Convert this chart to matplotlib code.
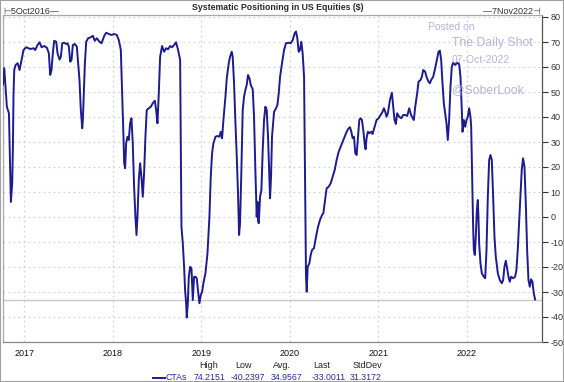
import matplotlib
matplotlib.use('Agg')
import matplotlib.pyplot as plt
from matplotlib.patches import Rectangle

plt.rcParams['font.family'] = ['Liberation Sans', 'DejaVu Sans']
plt.rcParams['axes.unicode_minus'] = False

# CTA positioning, dates as decimal years
t_2016_18 = [2016.760, 2016.774, 2016.789, 2016.804, 2016.827, 2016.842, 2016.849, 2016.864,
             2016.872, 2016.879, 2016.887, 2016.902, 2016.925, 2016.947, 2016.970, 2016.992,
             2017.022, 2017.068, 2017.105, 2017.124, 2017.150, 2017.173, 2017.196, 2017.226,
             2017.256, 2017.278, 2017.293, 2017.308, 2017.323, 2017.338, 2017.361, 2017.376,
             2017.399, 2017.414, 2017.429, 2017.451, 2017.474, 2017.489, 2017.504, 2017.519,
             2017.534, 2017.549, 2017.572, 2017.594, 2017.609, 2017.624, 2017.639, 2017.655,
             2017.662, 2017.670, 2017.685, 2017.700, 2017.722, 2017.752, 2017.775, 2017.797,
             2017.820, 2017.850, 2017.873, 2017.903, 2017.925, 2017.955, 2017.986, 2018.016,
             2018.046, 2018.068, 2018.091, 2018.106, 2018.121, 2018.129, 2018.140, 2018.151,
             2018.166, 2018.181, 2018.196, 2018.211, 2018.226, 2018.241, 2018.256, 2018.268,
             2018.279, 2018.294, 2018.309, 2018.324, 2018.339, 2018.354, 2018.369, 2018.384,
             2018.407, 2018.430, 2018.452, 2018.475, 2018.490, 2018.505, 2018.520, 2018.535,
             2018.557, 2018.580, 2018.603, 2018.625, 2018.648, 2018.670, 2018.693, 2018.715,
             2018.738, 2018.761]
v_2016_18 = [53.0, 59.5, 52.0, 44.0, 41.5, 16.0, 6.0, 13.5,
             28.0, 49.5, 58.8, 60.8, 61.5, 58.8, 62.8, 66.8,
             67.9, 67.2, 67.5, 66.8, 68.8, 69.9, 67.9, 68.4,
             67.7, 65.5, 56.8, 58.8, 65.5, 70.5, 70.1, 65.5,
             63.0, 64.1, 69.5, 69.7, 69.2, 69.5, 68.1, 62.1,
             62.8, 68.8, 69.2, 68.1, 61.5, 54.8, 42.8, 35.5,
             38.8, 46.8, 61.5, 70.1, 71.5, 71.9, 72.5, 70.5,
             71.5, 70.1, 69.5, 72.4, 73.7, 73.2, 72.8, 73.2,
             72.8, 70.8, 66.8, 49.5, 32.1, 21.5, 19.5, 29.5,
             32.1, 30.8, 37.5, 39.5, 29.5, 12.1, 0.1, -7.2,
             0.1, 14.8, 21.5, 16.1, 8.1, 17.5, 32.1, 42.8,
             43.5, 44.1, 45.5, 46.5, 42.8, 37.5, 49.5, 64.1,
             68.4, 66.1, 67.5, 67.1, 68.4, 67.9, 68.8, 69.9,
             66.8, 62.8]

t_2018_20 = [2018.776, 2018.791, 2018.806, 2018.817, 2018.829, 2018.836, 2018.848, 2018.859,
             2018.874, 2018.889, 2018.904, 2018.919, 2018.934, 2018.949, 2018.964, 2018.979,
             2018.994, 2019.009, 2019.024, 2019.047, 2019.070, 2019.092, 2019.107, 2019.122,
             2019.137, 2019.160, 2019.182, 2019.205, 2019.220, 2019.235, 2019.250, 2019.273,
             2019.288, 2019.310, 2019.325, 2019.344, 2019.355, 2019.370, 2019.386, 2019.401,
             2019.416, 2019.427, 2019.438, 2019.453, 2019.468, 2019.483, 2019.498, 2019.513,
             2019.528, 2019.544, 2019.559, 2019.581, 2019.596, 2019.611, 2019.626, 2019.634,
             2019.641, 2019.649, 2019.664, 2019.679, 2019.694, 2019.709, 2019.724, 2019.739,
             2019.754, 2019.769, 2019.777, 2019.788, 2019.799, 2019.822, 2019.845, 2019.860,
             2019.875, 2019.890, 2019.912, 2019.935, 2019.957, 2019.987, 2020.010, 2020.033,
             2020.055, 2020.070, 2020.085, 2020.100, 2020.115, 2020.130, 2020.145, 2020.161,
             2020.168, 2020.176, 2020.183, 2020.191, 2020.202, 2020.221, 2020.236, 2020.251,
             2020.273, 2020.296, 2020.319, 2020.341, 2020.364, 2020.379, 2020.394, 2020.416,
             2020.439, 2020.462, 2020.484, 2020.507, 2020.529, 2020.552, 2020.574, 2020.597,
             2020.620, 2020.642, 2020.665, 2020.680, 2020.695, 2020.710, 2020.725, 2020.740,
             2020.755, 2020.770, 2020.785, 2020.800]
v_2018_20 = [-3.9, -10.5, -20.0, -29.2, -34.5, -40.2, -34.5, -23.9,
             -19.9, -20.5, -33.2, -23.9, -23.9, -24.5, -29.9, -34.5,
             -31.2, -29.9, -26.5, -22.5, -14.5, 0.1, 16.1, 25.5,
             29.5, 32.1, 32.4, 32.1, 34.1, 31.5, 38.8, 48.1,
             55.5, 61.5, 64.1, 66.1, 64.1, 53.5, 37.5, 24.1,
             8.1, -7.2, -2.5, 18.8, 42.8, 48.1, 50.8, 52.8,
             56.8, 55.5, 52.8, 51.1, 40.1, 18.8, 0.1, 6.1,
             -1.2, -2.5, 8.1, 10.8, 26.8, 38.8, 44.1, 42.8,
             32.1, 16.1, 7.5, 16.1, 32.1, 42.1, 43.5, 44.8,
             49.5, 56.1, 61.5, 66.8, 69.5, 69.7, 69.5, 70.8,
             73.5, 74.2, 71.5, 66.1, 66.8, 70.1, 65.5, 56.1,
             29.5, -3.9, -23.9, -29.9, -19.9, -18.5, -15.2, -13.2,
             -12.5, -7.9, -3.9, -1.2, 0.8, 1.5, 5.5, 11.5,
             12.1, 13.5, 16.1, 18.8, 22.8, 26.1, 28.1, 30.1,
             32.1, 34.1, 35.5, 35.9, 34.1, 31.5, 32.1, 25.5,
             24.8, 32.1, 38.8, 39.5]

t_2020_22 = [2020.815, 2020.830, 2020.845, 2020.856, 2020.867, 2020.882, 2020.897, 2020.920,
             2020.935, 2020.958, 2020.980, 2021.003, 2021.025, 2021.048, 2021.063, 2021.078,
             2021.093, 2021.108, 2021.131, 2021.153, 2021.168, 2021.183, 2021.198, 2021.213,
             2021.236, 2021.259, 2021.281, 2021.304, 2021.326, 2021.349, 2021.364, 2021.379,
             2021.401, 2021.417, 2021.439, 2021.454, 2021.477, 2021.492, 2021.507, 2021.529,
             2021.544, 2021.567, 2021.582, 2021.597, 2021.620, 2021.642, 2021.665, 2021.680,
             2021.695, 2021.710, 2021.725, 2021.740, 2021.755, 2021.770, 2021.785, 2021.800,
             2021.815, 2021.830, 2021.845, 2021.868, 2021.891, 2021.913, 2021.928, 2021.943,
             2021.951, 2021.966, 2021.981, 2021.996, 2022.011, 2022.026, 2022.041, 2022.049,
             2022.056, 2022.064, 2022.071, 2022.079, 2022.090, 2022.101, 2022.113, 2022.124,
             2022.131, 2022.139, 2022.154, 2022.169, 2022.192, 2022.207, 2022.222, 2022.237,
             2022.252, 2022.267, 2022.282, 2022.297, 2022.312, 2022.327, 2022.350, 2022.372,
             2022.395, 2022.410, 2022.425, 2022.440, 2022.455, 2022.470, 2022.485, 2022.500,
             2022.523, 2022.545, 2022.560, 2022.575, 2022.590, 2022.605, 2022.620, 2022.635,
             2022.651, 2022.666, 2022.681, 2022.696, 2022.711, 2022.726, 2022.741, 2022.756,
             2022.771]
v_2020_22 = [38.8, 34.8, 29.5, 27.1, 31.5, 34.1, 33.5, 34.1,
             33.2, 36.1, 38.8, 39.5, 40.8, 42.1, 43.5, 42.1,
             40.1, 41.5, 46.8, 49.7, 44.1, 38.8, 37.2, 41.5,
             40.1, 39.5, 40.8, 40.8, 40.4, 43.5, 41.5, 40.1,
             38.8, 44.1, 49.5, 54.1, 54.8, 56.1, 58.8, 58.1,
             56.1, 54.1, 53.5, 54.8, 56.1, 59.5, 63.5, 66.1,
             66.5, 62.8, 53.5, 45.5, 41.5, 37.5, 30.8, 38.8,
             52.1, 60.1, 61.7, 60.8, 61.7, 61.2, 56.1, 42.8,
             34.1, 38.8, 36.1, 38.8, 40.1, 43.5, 40.1, 36.1,
             22.8, 8.1, -3.9, -13.2, -15.2, -7.9, 2.8, 6.8,
             0.1, -10.5, -18.5, -22.5, -23.9, -24.5, -13.2, 8.1,
             22.8, 24.8, 22.8, 8.1, -7.9, -15.9, -22.5, -25.2,
             -26.5, -25.2, -19.9, -17.5, -20.5, -23.9, -25.9, -23.9,
             -24.5, -23.9, -21.2, -13.2, -2.5, 8.1, 18.8, 23.5,
             20.1, 5.5, -13.2, -25.2, -27.9, -24.9, -25.9, -30.5,
             -33.0]

years = [2017, 2018, 2019, 2020, 2021, 2022]
y_ticks = list(range(-50, 81, 10))
stat_names = ['High', 'Low', 'Avg.', 'Last', 'StdDev']
stat_values = ['74.2151', '-40.2397', '34.9567', '-33.0011', '31.3172']
last_value = -33.0011

t = t_2016_18 + t_2018_20 + t_2020_22
v = v_2016_18 + v_2018_20 + v_2020_22

W, H = 564, 382
fig = plt.figure(figsize=(W / 100, H / 100), dpi=100)
fig.patches.append(Rectangle((0, 0), 1, 1, transform=fig.transFigure, fill=False,
                             edgecolor='#a0a0a0', linewidth=1.5))

def px(x, y):
    return x / W, 1 - y / H

l, top = px(3, 14.5)
r, bot = px(542, 342)
ax = fig.add_axes([l, bot, r - l, top - bot])

line_col = '#1c1c8e'
ax.plot(t, v, color=line_col, linewidth=1.4, zorder=3)
ax.axhline(last_value, color='#c8c8c8', linewidth=1.0, zorder=2)

ax.set_xlim(2016.760, 2022.849)
ax.set_ylim(-50, 81)
ax.set_xticks(years)
ax.set_xticklabels([str(y) for y in years])
ax.set_yticks(y_ticks)
ax.yaxis.tick_right()
ax.grid(True, color='#d4d4d4', linestyle=(0, (1.5, 2.5)), linewidth=0.9)
ax.tick_params(axis='x', length=0, labelsize=6.5, pad=5, colors='#111111')
ax.tick_params(axis='y', direction='out', length=4, width=0.8, labelsize=6.5,
               pad=2, colors='#333333')
for s in ['left', 'top']:
    ax.spines[s].set_color('#a8a8a8')
    ax.spines[s].set_linewidth(0.9)
ax.spines['right'].set_color('#555555')
ax.spines['right'].set_linewidth(0.9)
ax.spines['bottom'].set_color('#888888')
ax.spines['bottom'].set_linewidth(0.9)

fig.text(*px(278, 8), 'Systematic Positioning in US Equities ($)', ha='center', va='center',
         fontsize=6.3, fontweight='bold', color='#2a2a2a')
fig.text(*px(3, 12), '\u22a25Oct2016\u2014', ha='left', va='center', fontsize=6.5,
         color='#333333', family=['Liberation Sans', 'DejaVu Sans'])
fig.text(*px(541, 12), '\u20147Nov2022\u22a3', ha='right', va='center', fontsize=6.5,
         color='#333333', family=['Liberation Sans', 'DejaVu Sans'])

wm = '#b4b4dc'
fig.text(*px(428, 27), 'Posted on', ha='left', va='center', fontsize=7.5, color=wm)
fig.text(*px(452, 43), 'The Daily Shot', ha='left', va='center', fontsize=8.8, color=wm)
fig.text(*px(452, 60), '07-Oct-2022', ha='left', va='center', fontsize=7.5, color=wm)
fig.text(*px(452, 90), '@SoberLook', ha='left', va='center', fontsize=8.8, color=wm)

# stats legend below the axis
head_x = [209, 244, 282, 322, 367]
val_x = [210, 247.5, 286.5, 329, 366]
for name, val, hx, vx in zip(stat_names, stat_values, head_x, val_x):
    fig.text(*px(hx, 366), name, ha='center', va='center', fontsize=6.5, color='#222222')
    fig.text(*px(vx, 378), val, ha='center', va='center', fontsize=6.3, color='#2a2a9e')
fig.add_artist(plt.Line2D([153 / W, 165 / W], [1 - 378 / H, 1 - 378 / H],
                          color=line_col, linewidth=1.4))
fig.text(*px(166, 378), 'CTAs', ha='left', va='center', fontsize=6.3, color='#2a2a9e')

fig.savefig('out.png', dpi=100)
